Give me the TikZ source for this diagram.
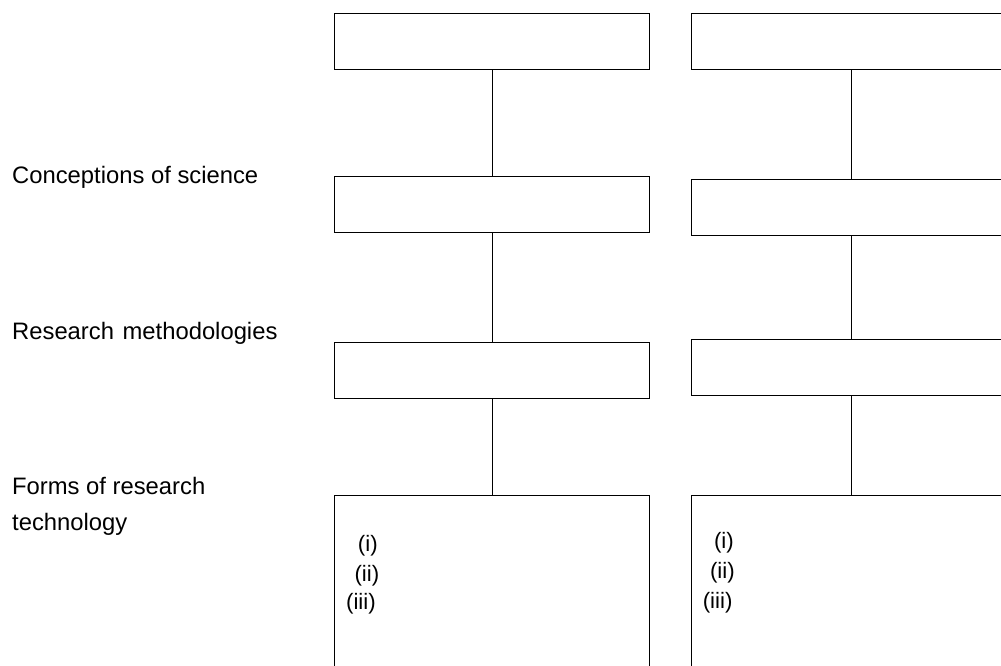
\documentclass[tikz,border=0pt]{standalone}
\usepackage{fontspec}
\setmainfont{Liberation Sans}
\begin{document}
\begin{tikzpicture}[x=1pt,y=-1pt,
  frame/.style={draw=black,line width=1.2pt,rectangle,inner sep=0pt,
    minimum width=320pt,minimum height=56pt,anchor=north west},
  tallframe/.style={frame,minimum height=220pt},
  link/.style={draw=black,line width=1.1pt},
  rowlabel/.style={anchor=base west,inner sep=0pt,font=\fontsize{23.8}{28}\selectfont},
  item/.style={anchor=base east,inner sep=0pt,font=\fontsize{22.3}{27}\selectfont}]
\clip (0,0) rectangle (1001,665);
\fill[white] (0,0) rectangle (1001,665);

% left column
\node[frame,minimum width=315pt] (L1) at (334,13) {};
\node[frame,minimum width=315pt] (L2) at (334,176) {};
\node[frame,minimum width=315pt] (L3) at (334,342) {};
\node[tallframe,minimum width=315pt] (L4) at (334,495) {};
% right column
\node[frame] (R1) at (691,13) {};
\node[frame] (R2) at (691,179) {};
\node[frame] (R3) at (691,339) {};
\node[tallframe] (R4) at (691,495) {};

\draw[link] (L1.south) -- (L2.north);
\draw[link] (L2.south) -- (L3.north);
\draw[link] (L3.south) -- (L4.north);
\draw[link] (R1.south) -- (R2.north);
\draw[link] (R2.south) -- (R3.north);
\draw[link] (R3.south) -- (R4.north);

% row labels
\node[rowlabel] (cs) at (12,183) {Conceptions of science};
\node[rowlabel] (rm) at (12,339) {Research\hspace{2pt} methodologies};
\node[rowlabel] (fr) at (12,494) {Forms of research};
\node[rowlabel] (ft) at (12,530) {technology};

% numbered items
\node[item] (Li) at (378,551.5) {(i)};
\node[item] (Lii) at (379.5,581.5) {(ii)};
\node[item] (Liii) at (376,609.6) {(iii)};
\node[item] (Ri) at (734,548.7) {(i)};
\node[item] (Rii) at (735,578.7) {(ii)};
\node[item] (Riii) at (732.7,608.6) {(iii)};
\end{tikzpicture}
\end{document}
